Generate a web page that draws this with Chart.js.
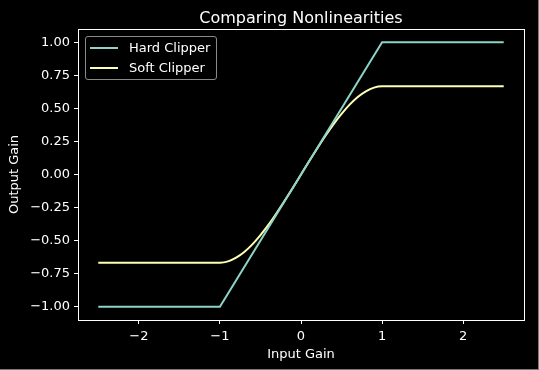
<!DOCTYPE html>
<html>
<head>
<meta charset="utf-8">
<script src="https://cdn.jsdelivr.net/npm/chart.js@4"></script>
<style>
  html, body { margin: 0; padding: 0; background: #000; }
  #wrap { position: relative; width: 539px; height: 370px; }
  #chart { display: block; }
  #edge {
    position: absolute; left: 0; top: 0; width: 538px; height: 369px;
    border-right: 1px solid #7a7a7a; border-bottom: 1px solid #7a7a7a; pointer-events: none;
  }
  .legend {
    position: absolute; left: 85px; top: 36px; width: 130px; height: 42px;
    border: 1px solid #8a8a8a; border-radius: 3px; background: rgba(0,0,0,0.8);
    font-family: "DejaVu Sans", sans-serif; font-size: 13px; color: #fff;
  }
  .legend-item { position: absolute; left: 4px; height: 16px; line-height: 16px; }
  .legend-line { position: absolute; left: 0; top: 7px; width: 28px; height: 2px; }
  .legend-item span { position: absolute; left: 39px; white-space: nowrap; }
</style>
</head>
<body>
<div id="wrap">
  <canvas id="chart" width="539" height="370"></canvas>
  <div class="legend" id="legend"></div>
  <div id="edge"></div>
</div>
<script>
// Hard clipper: points where the line changes direction
const hardX = [-2.5, -1, 1, 2.5];
const hardY = [-1, -1, 1, 1];

// Soft clipper
const softX = [-2.5, -1, -0.9, -0.8, -0.7, -0.6, -0.5, -0.4, -0.3, -0.2, -0.1, 0,
               0.1, 0.2, 0.3, 0.4, 0.5, 0.6, 0.7, 0.8, 0.9, 1, 2.5];
const softY = [-0.667, -0.667, -0.657, -0.629, -0.586, -0.528, -0.458, -0.379, -0.291, -0.197, -0.100, 0,
               0.100, 0.197, 0.291, 0.379, 0.458, 0.528, 0.586, 0.629, 0.657, 0.667, 0.667];

const xTicks = [-2, -1, 0, 1, 2];
const yTicks = [-1.0, -0.75, -0.5, -0.25, 0, 0.25, 0.5, 0.75, 1.0];

const TITLE = 'Comparing Nonlinearities';

const COLOURS = {
  hard: '#8dd3c7',
  soft: '#feffb3',
};

const FONT = '"DejaVu Sans", sans-serif';
const fmtMinus = s => s.replace('-', '\u2212');

// axes frame on all four sides + title centred over the plot
const frame = {
  id: 'frame',
  afterDraw(chart) {
    const { ctx, chartArea: a } = chart;
    ctx.save();
    ctx.strokeStyle = '#ffffff';
    ctx.lineWidth = 1;
    ctx.strokeRect(Math.round(a.left) + 0.5, Math.round(a.top) + 0.5,
                   Math.round(a.right - a.left), Math.round(a.bottom - a.top));
    ctx.fillStyle = '#ffffff';
    ctx.font = '16px ' + FONT;
    ctx.textAlign = 'center';
    ctx.textBaseline = 'alphabetic';
    ctx.fillText(TITLE, (a.left + a.right) / 2, 23);
    ctx.restore();
  },
};

new Chart(document.getElementById('chart'), {
  type: 'line',
  data: {
    datasets: [
      {
        label: 'Hard Clipper',
        data: hardX.map((x, i) => ({ x, y: hardY[i] })),
        borderColor: COLOURS.hard,
        borderWidth: 2,
        pointRadius: 0,
      },
      {
        label: 'Soft Clipper',
        data: softX.map((x, i) => ({ x, y: softY[i] })),
        borderColor: COLOURS.soft,
        borderWidth: 2,
        pointRadius: 0,
        cubicInterpolationMode: 'monotone',
      },
    ],
  },
  options: {
    responsive: false,
    animation: false,
    layout: { padding: { left: 0, right: 15, top: 29, bottom: 0 } },
    plugins: {
      legend: { display: false },
      tooltip: { enabled: false },
      title: { display: false },
    },
    scales: {
      x: {
        type: 'linear',
        min: -2.75,
        max: 2.75,
        afterBuildTicks(scale) { scale.ticks = xTicks.map(v => ({ value: v })); },
        afterFit(scale) { scale.height = 50; },
        ticks: {
          color: '#ffffff',
          font: { family: FONT, size: 13 },
          padding: 5,
          maxRotation: 0,
          callback: v => fmtMinus(String(v)),
        },
        grid: { drawOnChartArea: false, color: '#ffffff', tickLength: 4 },
        border: { color: '#ffffff' },
        title: {
          display: true,
          text: 'Input Gain',
          color: '#ffffff',
          font: { family: FONT, size: 13 },
          padding: { top: 2, bottom: 8 },
        },
      },
      y: {
        type: 'linear',
        min: -1.1,
        max: 1.1,
        afterBuildTicks(scale) { scale.ticks = yTicks.map(v => ({ value: v })); },
        afterFit(scale) { scale.width = 78; },
        ticks: {
          color: '#ffffff',
          font: { family: FONT, size: 13 },
          padding: 4,
          callback: v => fmtMinus(v.toFixed(2)),
        },
        grid: { drawOnChartArea: false, color: '#ffffff', tickLength: 4 },
        border: { color: '#ffffff' },
        title: {
          display: true,
          text: 'Output Gain',
          color: '#ffffff',
          font: { family: FONT, size: 13 },
          padding: { top: 7, bottom: 2 },
        },
      },
    },
  },
  plugins: [frame],
});

// Legend drawn inside the plot, upper left
const legendEl = document.getElementById('legend');
legendEl.innerHTML = [
  { label: 'Hard Clipper', color: COLOURS.hard },
  { label: 'Soft Clipper', color: COLOURS.soft },
].map((item, i) => `
  <div class="legend-item" style="top:${3 + i * 20}px">
    <div class="legend-line" style="background:${item.color}"></div>
    <span>${item.label}</span>
  </div>`).join('');
</script>
</body>
</html>
